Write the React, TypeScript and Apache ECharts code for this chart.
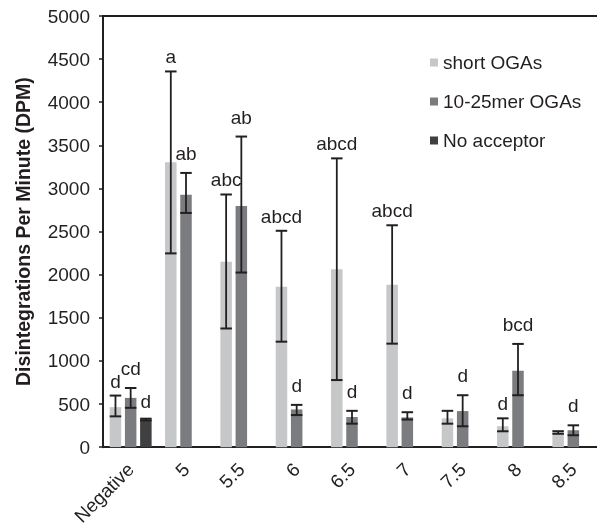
import React, { useEffect, useRef } from "react";
import * as echarts from "echarts";

const categories = ["Negative", "5", "5.5", "6", "6.5", "7", "7.5", "8", "8.5"];
const yTicks = [0, 500, 1000, 1500, 2000, 2500, 3000, 3500, 4000, 4500, 5000];

const shortMean = [464, 3305, 2150, 1860, 2063, 1883, 334, 242, 170];
const shortLow = [357, 2247, 1376, 1223, 778, 1200, 272, 184, 155];
const shortHigh = [598, 4357, 2930, 2509, 3349, 2573, 421, 334, 185];
const shortLetters = ["d", "a", "abc", "abcd", "abcd", "abcd", "", "d", ""];

const longMean = [571, 2926, 2796, 437, 349, 345, 418, 886, 196];
const longLow = [456, 2716, 2025, 372, 272, 320, 242, 602, 138];
const longHigh = [686, 3180, 3602, 490, 421, 405, 602, 1197, 253];
const longLetters = ["cd", "ab", "ab", "d", "d", "d", "d", "bcd", "d"];

const noAccMean = [320, null, null, null, null, null, null, null, null];
const noAccLow = [310];
const noAccHigh = [330];
const noAccLetters = ["d"];

const seriesNames = ["short OGAs", "10-25mer OGAs", "No acceptor"];
const colors = ["#c6c7c9", "#7b7c7f", "#404042"];
const ink = "#231f20";
const FONT = "Liberation Sans, Arial, Helvetica, sans-serif";
const FS = 19;
const BAR_W = 11.5;
const BAR_STEP = 15.2;
const LABEL_GAP = [5, 10, 8];

function errorSeries(groupIdx: number, low: number[], high: number[], letters: string[]) {
  const data = low.map((l, i) => [i, l, high[i]]);
  return {
    type: "custom",
    z: 5,
    silent: true,
    encode: { x: 0, y: [1, 2] },
    data,
    renderItem: (params: any, api: any) => {
      const i = api.value(0);
      const lo = api.coord([i, api.value(1)]);
      const hi = api.coord([i, api.value(2)]);
      const x = lo[0] + (groupIdx - 1) * BAR_STEP;
      const half = BAR_W / 2;
      const lineStyle = { stroke: ink, lineWidth: 2 };
      const children: any[] = [
        { type: "line", shape: { x1: x, y1: lo[1], x2: x, y2: hi[1] }, style: { stroke: ink, lineWidth: 1.8 } },
        { type: "line", shape: { x1: x - half, y1: hi[1], x2: x + half, y2: hi[1] }, style: lineStyle },
        { type: "line", shape: { x1: x - half, y1: lo[1], x2: x + half, y2: lo[1] }, style: lineStyle },
      ];
      const txt = letters[params.dataIndex];
      if (txt) {
        children.push({
          type: "text",
          x: x,
          y: hi[1] - LABEL_GAP[groupIdx],
          style: {
            text: txt,
            fill: ink,
            fontSize: FS,
            fontFamily: FONT,
            align: "center",
            verticalAlign: "bottom",
          },
        });
      }
      return { type: "group", children };
    },
  };
}

export default function App() {
  const ref = useRef<HTMLDivElement>(null);
  useEffect(() => {
    if (!ref.current) return;
    const chart = echarts.init(ref.current, undefined, { renderer: "svg" });
    const barSeries = [shortMean, longMean, noAccMean].map((d, k) => ({
      name: seriesNames[k],
      type: "bar",
      data: d,
      barWidth: BAR_W,
      barGap: ((BAR_STEP - BAR_W) / BAR_W) * 100 + "%",
      itemStyle: { color: colors[k] },
      z: 2,
    }));
    chart.setOption({
      animation: false,
      textStyle: { fontFamily: FONT, color: ink },
      grid: {
        left: 103,
        right: 0,
        top: 16,
        bottom: 78,
        containLabel: false,
      },
      legend: {
        orient: "vertical",
        left: 430,
        top: 53,
        padding: 0,
        itemWidth: 8,
        itemHeight: 8,
        itemGap: 20,
        icon: "rect",
        data: seriesNames,
        textStyle: { fontSize: FS, color: ink, fontFamily: FONT },
      },
      xAxis: [
        {
          type: "category",
          data: categories,
          axisLine: { lineStyle: { color: ink, width: 2 } },
          axisTick: { alignWithLabel: true, length: 4, lineStyle: { color: ink, width: 1.5 } },
          axisLabel: { rotate: 45, fontSize: FS, color: ink, margin: 19, fontFamily: FONT, interval: 0 },
          splitLine: { show: false },
        },
        {
          type: "category",
          position: "top",
          data: categories,
          axisLine: { show: true, lineStyle: { color: ink, width: 2 } },
          axisTick: { show: false },
          axisLabel: { show: false },
          splitLine: { show: false },
        },
      ],
      yAxis: {
        type: "value",
        min: yTicks[0],
        max: yTicks[yTicks.length - 1],
        interval: yTicks[1] - yTicks[0],
        name: "Disintegrations Per Minute (DPM)",
        nameLocation: "middle",
        nameGap: 70,
        nameRotate: 90,
        nameTextStyle: { fontSize: 19.5, fontWeight: "bold", color: ink, fontFamily: FONT },
        axisLine: { show: true, lineStyle: { color: ink, width: 2 } },
        axisTick: { show: true, length: 4, lineStyle: { color: ink, width: 1.5 } },
        axisLabel: { fontSize: FS, color: ink, margin: 13, fontFamily: FONT, formatter: (v: number) => String(v) },
        splitLine: { show: false },
      },
      series: [
        ...barSeries,
        errorSeries(0, shortLow, shortHigh, shortLetters),
        errorSeries(1, longLow, longHigh, longLetters),
        errorSeries(2, noAccLow, noAccHigh, noAccLetters),
      ],
    });
    return () => chart.dispose();
  }, []);
  return (
    <div style={{ position: "fixed", left: 0, top: 0, width: 597, height: 528, overflow: "hidden" }}>
      <div ref={ref} style={{ width: 601, height: 528 }} />
    </div>
  );
}
